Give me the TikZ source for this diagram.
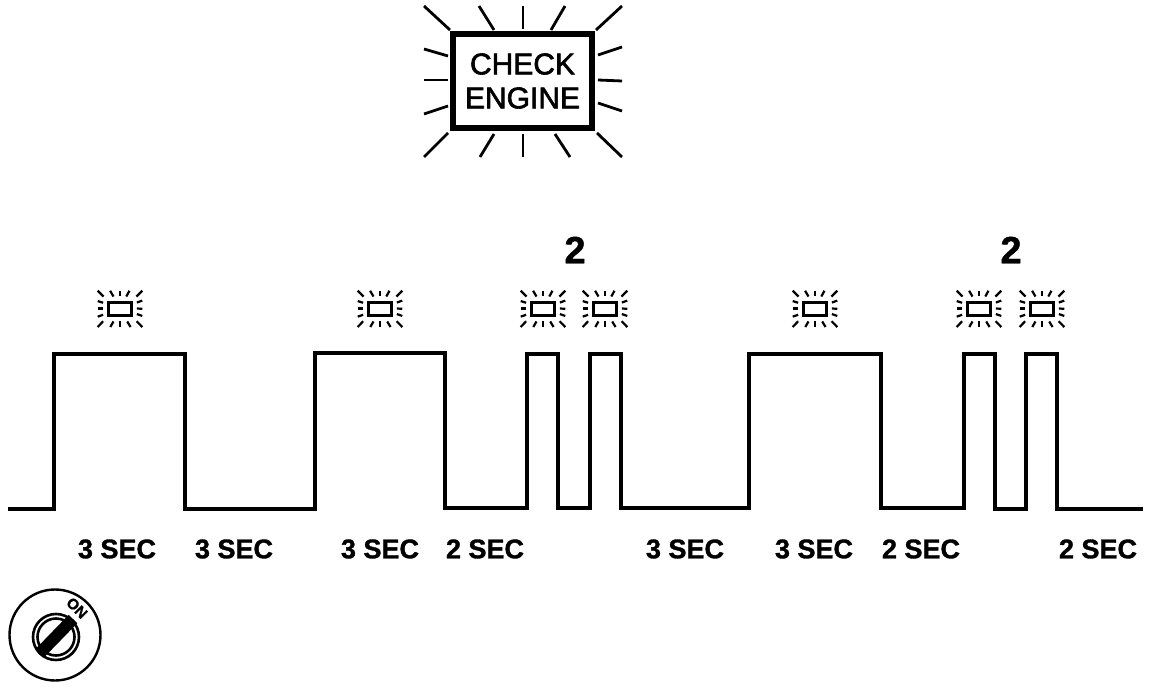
\documentclass[tikz,border=0pt]{standalone}
\usepackage{fontspec}
\setmainfont{Liberation Sans}
\newfontfamily\heavyfont[FakeBold=1.2]{Liberation Sans Bold}
\newfontfamily\signfont[FakeBold=2]{Liberation Sans}
\usepackage{tikz}

% rays round a lamp, measured from its centre
\newcommand{\lamprays}{
    \foreach \xa/\ya/\xb/\yb in {-99/-76/-73/-52, -44/-76/-29/-52, 0/-76/0/-53, 42/-76/28/-52, 99/-76/73/-52,
        -99/-33/-75/-26, -99/-2/-75/-2, -99/32/-75/24,
        99/-35/75/-27, 99/-1/75/-2, 99/29/75/21,
        -99/75/-75/51, -43/75/-29/52, 0/75/0/52, 47/75/32/52, 99/75/74/51}
        \draw[rayline] (\xa,\ya) -- (\xb,\yb);
}

\begin{document}
\begin{tikzpicture}[
    x=1pt, y=-1pt,
    rayline/.style={line width=\raywidth, line cap=butt},
    bigbox/.style={rectangle, draw, line width=6pt, minimum width=139pt, minimum height=94pt, inner sep=0pt, align=center,
        font=\signfont\fontsize{30}{34}\selectfont},
    smallbox/.style={rectangle, draw, line width=2.4pt, minimum width=23pt, minimum height=13pt, inner sep=0pt},
    secnote/.style={font=\heavyfont\fontsize{27}{27}\selectfont},
    countnote/.style={font=\heavyfont\fontsize{38}{38}\selectfont},
    wave/.style={line width=3.4pt, line join=miter}
]
    \useasboundingbox (0,0) rectangle (1168,688);

    % check engine lamp
    \node[bigbox] (check) at (522.5,81) {CHECK\\ENGINE};
    \def\raywidth{2.8pt}
    \begin{scope}[shift={(523,82)}]
        \lamprays
    \end{scope}

    \def\raywidth{2.2pt}
    \foreach \name/\px in {one/120, two/380, three/543, four/605, five/815, six/979, seven/1042} {
        \node[smallbox] (lamp\name) at (\px,309) {};
        \begin{scope}[shift={(\px,309)}, xscale=0.225, yscale=0.24]
            \lamprays
        \end{scope}
    }

    \node[countnote] (firstcount) at (575,250) {2};
    \node[countnote] (secondcount) at (1011,250) {2};

    % pulse train
    \draw[wave] (8,509) -- (54,509) -- (54,354) -- (185,354) -- (185,509) -- (315,509)
        -- (315,353) -- (445,353) -- (445,508) -- (527,508) -- (527,354) -- (558,354)
        -- (558,508) -- (590,508) -- (590,354) -- (621,354) -- (621,508) -- (749,508)
        -- (749,354) -- (881,354) -- (881,508) -- (964,508) -- (964,354) -- (995,354)
        -- (995,509) -- (1026,509) -- (1026,354) -- (1057,354) -- (1057,509) -- (1143,509);

    \node[secnote] (seca) at (117,549) {3 SEC};
    \node[secnote] (secb) at (234,549) {3 SEC};
    \node[secnote] (secc) at (380,549) {3 SEC};
    \node[secnote] (secd) at (485,549) {2 SEC};
    \node[secnote] (sece) at (685,549) {3 SEC};
    \node[secnote] (secf) at (814,549) {3 SEC};
    \node[secnote] (secg) at (921,549) {2 SEC};
    \node[secnote] (sech) at (1098,549) {2 SEC};

    % ignition key
    \draw[line width=2.4pt] (55,635) circle (45.5);
    \draw[line width=2.6pt] (56,637) circle (23);
    \draw[line width=2.6pt] (56,637) circle (18.5);
    \draw[line width=12pt] (40,653) -- (73,619);
    \node[rotate=-45, font=\heavyfont\fontsize{15}{15}\selectfont] (keyon) at (77,608) {ON};
\end{tikzpicture}
\end{document}
